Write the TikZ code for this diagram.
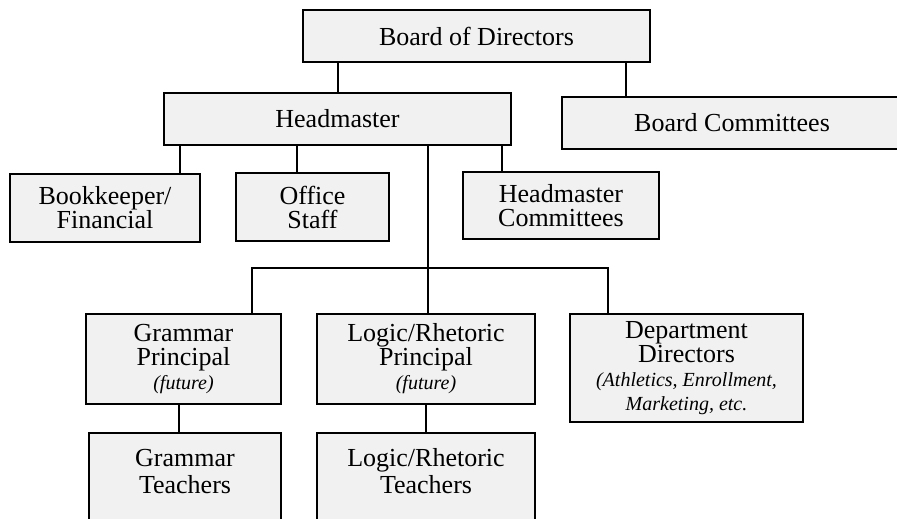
\documentclass[tikz,border=0pt]{standalone}
\usepackage{fontspec}
\setmainfont{Liberation Serif}
\usepackage{tikz}

\definecolor{boxgray}{HTML}{F1F1F1}
\newcommand{\aside}[1]{{\fontsize{20}{18}\selectfont\itshape #1}}

\begin{document}
\begin{tikzpicture}[x=1pt, y=-1pt, line width=1.8pt,
    box/.style={draw, line width=1.9pt, fill=boxgray, align=center, inner sep=0pt,
      font=\fontsize{26}{24}\selectfont}]
  \useasboundingbox (0,0) rectangle (897,519);

  \node[box, minimum width=347, minimum height=52] (bod) at (476.5,36) {Board of Directors};
  \node[box, minimum width=347, minimum height=52] (head) at (337.5,119) {Headmaster};
  \node[box, minimum width=340, minimum height=52] (bcom) at (732,123) {Board Committees};

  \node[box, minimum width=190, minimum height=68] (book) at (105,208) {Bookkeeper/\\Financial};
  \node[box, minimum width=153, minimum height=68] (office) at (312.5,207) {Office\\Staff};
  \node[box, minimum width=196, minimum height=67] (hcom) at (561,205.5) {Headmaster\\Committees};

  \node[box, minimum width=195, minimum height=90] (gprin) at (183.5,359) {Grammar\\Principal\\\aside{(future)}};
  \node[box, minimum width=218, minimum height=90] (lprin) at (426,359) {Logic/Rhetoric\\Principal\\\aside{(future)}};
  \node[box, minimum width=233, minimum height=108] (dept) at (686.5,368) {Department\\Directors\\\aside{(Athletics, Enrollment,}\\\aside{Marketing, etc.}};

  \node[box, anchor=north, minimum width=192, text height=61pt, text depth=37pt] (gteach) at (185,432) {Grammar\\[3pt]Teachers};
  \node[box, anchor=north, minimum width=218, text height=61pt, text depth=37pt] (lteach) at (426,432) {Logic/Rhetoric\\[3pt]Teachers};

  \coordinate (fork) at (428,268);

  % connectors
  \draw ([xshift=36]bod.south west) -- ([xshift=36]bod.south west |- head.north);
  \draw ([xshift=65]bcom.north west) -- ([xshift=65]bcom.north west |- bod.south);
  \draw ([xshift=171]book.north west) -- ([xshift=171]book.north west |- head.south);
  \draw ([xshift=62]office.north west) -- ([xshift=62]office.north west |- head.south);
  \draw ([xshift=40]hcom.north west) -- ([xshift=40]hcom.north west |- head.south);
  \draw (head.south -| fork) -- (fork) -- (fork |- lprin.north);
  \draw ([xshift=167]gprin.north west) |- (fork) -| ([xshift=39]dept.north west);
  \draw ([xshift=94]gprin.south west) -- ([xshift=94]gprin.south west |- gteach.north);
  \draw ([xshift=110]lprin.south west) -- ([xshift=110]lprin.south west |- lteach.north);
\end{tikzpicture}
\end{document}
